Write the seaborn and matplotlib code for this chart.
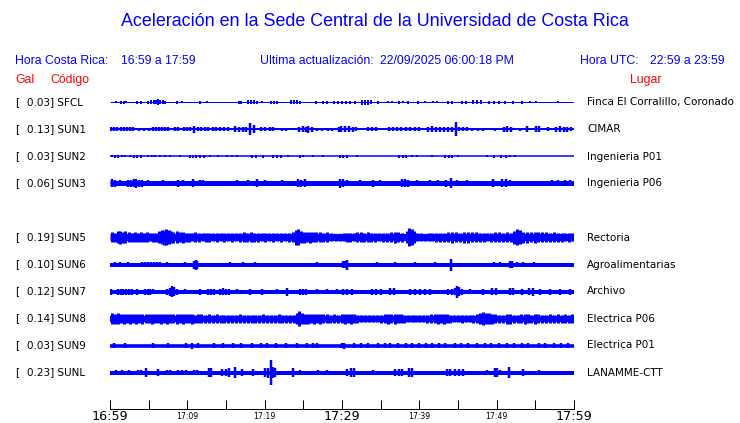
import matplotlib
matplotlib.use("Agg")
import matplotlib.pyplot as plt
import matplotlib.transforms as mtransforms
import pandas as pd
import seaborn as sns

# ---------------- data ----------------
codes = ["SFCL", "SUN1", "SUN2", "SUN3", "SUN5", "SUN6", "SUN7", "SUN8", "SUN9", "SUNL"]
gal = [0.03, 0.13, 0.03, 0.06, 0.19, 0.10, 0.12, 0.14, 0.03, 0.23]
places = ["Finca El Corralillo, Coronado", "CIMAR", "Ingenieria P01", "Ingenieria P06",
          "Rectoria", "Agroalimentarias", "Archivo", "Electrica P06", "Electrica P01",
          "LANAMME-CTT"]
# half-width (pixels) of the continuous background noise band of each trace
base_px = [0.5, 1.0, 0.75, 2.5, 3.6, 2.0, 2.0, 3.2, 1.8, 2.0]

tick_minutes = [0, 5, 10, 15, 20, 25, 30, 35, 40, 45, 50, 55, 60]
tick_labels = ["16:59", "", "17:09", "", "17:19", "", "17:29", "", "17:39", "", "17:49", "", "17:59"]

# events: (minute after 16:59, half amplitude in pixels)
sfcl_events = [(0.8, 1), (1.4, 1.5), (1.8, 1.5), (2.1, 1), (3.5, 1.5), (4.0, 1.5), (4.9, 1.5),
               (5.3, 2), (5.7, 2), (5.9, 2), (6.2, 3), (6.5, 2), (6.9, 2), (7.1, 1.5), (8.7, 1.5),
               (9.3, 1), (11.6, 1.5), (12.5, 1), (16.7, 1.5), (16.9, 1.5), (17.8, 2), (18.2, 2),
               (18.6, 2), (19.0, 1.5), (19.7, 1), (20.8, 1.5), (21.2, 1.5), (21.6, 1.5), (23.4, 2),
               (23.8, 2), (24.2, 2), (24.6, 1.5), (26.6, 1.5), (27.5, 1.5), (28.0, 1.5), (29.0, 1.5),
               (29.5, 1.5), (30.0, 1.5), (30.5, 1.5), (31.0, 1.5), (31.7, 1.5), (32.6, 2.5),
               (33.0, 2.5), (33.4, 2.5), (33.8, 2), (34.7, 1.5), (35.9, 1), (36.5, 1), (37.4, 1.5),
               (37.9, 1), (38.5, 1.5), (39.8, 1.5), (40.7, 1), (41.8, 1), (42.3, 1), (43.7, 1.5),
               (44.2, 1.5), (45.5, 1.5), (46.0, 1.5), (46.9, 2), (47.5, 2), (48.0, 2), (49.0, 1.5),
               (49.7, 1.5), (50.3, 1.5), (51.1, 1.5), (52.1, 1.5), (53.3, 1.5), (54.3, 1), (55.1, 1),
               (57.9, 1)]
sun1_events = [(0.1, 2), (0.5, 2), (0.9, 2), (1.4, 2), (1.8, 2), (2.2, 2), (2.6, 2), (3.0, 2),
               (3.8, 1.5), (4.4, 1.5), (5.0, 1.5), (5.6, 2), (5.9, 2), (6.3, 2), (6.7, 2), (7.1, 2),
               (7.5, 2), (8.4, 2), (8.8, 2), (9.6, 2), (10.0, 2), (10.3, 2), (10.9, 3.7), (11.4, 2),
               (11.8, 2), (12.3, 2), (12.7, 2), (13.3, 2), (13.7, 2), (14.2, 2), (14.7, 2), (15.3, 2),
               (16.2, 3), (16.7, 2.5), (17.2, 2.5), (17.6, 2.5), (18.1, 6), (18.6, 4), (19.5, 2),
               (20.0, 2), (20.7, 2), (21.1, 2), (22.2, 1.5), (22.8, 1.5), (24.4, 2.5), (25.0, 3),
               (25.3, 2.5), (25.6, 3.5), (26.1, 2.5), (26.8, 1.5), (27.4, 1.5), (28.2, 1.5),
               (28.7, 1.5), (29.6, 2.5), (29.9, 3), (30.4, 3), (30.9, 3), (31.4, 2.5), (31.8, 2),
               (33.4, 2), (33.9, 2), (34.4, 2), (36.1, 2), (36.6, 2), (37.1, 2), (37.6, 2), (38.3, 2),
               (38.8, 2), (39.4, 2), (40.0, 2), (41.1, 2.5), (41.6, 3), (42.2, 2.5), (42.7, 2.5),
               (43.2, 2.5), (43.7, 2.5), (44.2, 2.5), (44.7, 7), (45.1, 2), (45.6, 2), (46.2, 2),
               (46.8, 1.5), (47.6, 1.5), (48.2, 1.5), (49.8, 1.5), (51.0, 2.5), (51.3, 3), (51.9, 2.5),
               (53.0, 1.5), (53.9, 3), (55.1, 3), (55.5, 3), (56.6, 2), (57.7, 2.5), (58.2, 3),
               (58.7, 2.5), (59.1, 2.5), (59.6, 2)]
sun2_events = [(0.2, 1), (0.6, 1.5), (1.0, 1.5), (1.6, 1), (1.9, 1), (2.6, 1), (3.1, 1.5), (3.5, 1.5),
               (4.0, 1.5), (4.9, 1), (5.4, 1), (5.8, 1), (6.5, 1), (7.1, 1), (7.8, 1), (9.1, 1),
               (10.3, 1.5), (10.7, 1.5), (11.1, 1.5), (11.6, 1.5), (12.2, 1.5), (12.9, 1), (14.0, 1),
               (15.1, 1), (15.8, 1), (16.4, 1), (18.4, 1.5), (18.9, 1.5), (19.8, 1.5), (21.1, 1.5),
               (21.6, 1.5), (22.1, 1.5), (23.0, 1), (24.6, 1.5), (25.0, 1), (26.3, 1), (27.5, 1),
               (29.7, 1.5), (30.1, 1.5), (30.6, 1.5), (31.9, 1), (37.4, 1.5), (37.9, 1.5), (38.3, 1.5),
               (39.1, 1), (39.7, 1), (41.6, 1), (43.3, 1.5), (43.8, 1.5), (44.2, 1.5), (45.0, 1),
               (48.8, 1), (49.7, 1.5), (50.6, 1.5), (51.2, 1.5), (51.7, 1), (52.4, 1)]
sun3_events = [(0.3, 4), (0.6, 3.5), (1.3, 3), (2.3, 3.5), (2.7, 3.5), (3.1, 4), (3.4, 4.5), (3.8, 3.5),
               (4.1, 3.5), (4.9, 3), (6.9, 3), (8.8, 3.5), (9.4, 3), (10.7, 4), (11.6, 3), (12.0, 3),
               (16.4, 3), (17.8, 3), (19.0, 4), (20.0, 3), (22.2, 3), (24.3, 4), (24.7, 3.5), (25.2, 4),
               (29.7, 4.5), (30.1, 4), (30.6, 3), (32.3, 3), (34.0, 3.5), (34.9, 3), (37.8, 4),
               (38.1, 4), (38.5, 3.5), (39.7, 3), (41.4, 3), (42.4, 3), (43.4, 3.5), (44.1, 5),
               (44.9, 3), (46.2, 3), (49.5, 4), (50.7, 4), (51.2, 4), (51.7, 3), (57.2, 3), (57.9, 3),
               (58.8, 3), (59.5, 3)]
sun5_events = [(0.2, 5), (0.6, 4.5), (1.0, 6), (1.3, 6.5), (1.7, 5.5), (2.0, 6), (2.4, 5), (2.8, 4.5),
               (3.2, 5), (3.6, 4.5), (4.0, 5), (4.4, 4.5), (4.8, 5), (5.2, 4), (5.6, 4.5), (6.0, 4.5),
               (6.4, 6), (6.7, 7), (7.0, 7.5), (7.3, 8), (7.6, 7), (7.9, 6), (8.2, 5.5), (8.6, 6),
               (9.0, 5), (9.4, 5.5), (9.8, 4.5), (10.2, 4.5), (10.6, 4), (11.0, 5), (11.5, 4.5),
               (12.0, 4), (12.4, 4.5), (12.8, 4.5), (13.3, 4), (13.8, 4.5), (14.3, 4), (14.8, 4.5),
               (15.3, 4), (15.8, 4.5), (16.3, 4), (16.8, 4.5), (17.3, 5), (17.7, 4.5), (18.2, 5),
               (18.6, 4.5), (19.1, 4.5), (19.6, 4), (20.1, 4.5), (20.6, 4), (21.1, 4.5), (21.6, 4),
               (22.1, 4.5), (22.6, 4), (23.1, 4.5), (23.6, 5), (24.0, 7.5), (24.3, 8), (24.7, 6),
               (25.1, 5.5), (25.5, 5), (25.9, 5.5), (26.3, 5), (26.7, 5), (27.2, 5), (27.6, 4.5),
               (28.1, 5), (28.6, 4), (29.2, 3.5), (29.7, 3.5), (30.2, 4), (30.6, 4.5), (31.0, 4.5),
               (31.5, 4), (32.0, 5), (32.4, 5), (32.8, 4.5), (33.3, 5), (33.8, 4.5), (34.3, 4.5),
               (34.8, 4), (35.3, 4.5), (35.8, 4.5), (36.3, 5), (36.8, 5.5), (37.3, 5), (37.8, 4.5),
               (38.4, 6), (38.7, 9), (39.0, 8), (39.3, 6), (39.7, 4), (40.2, 4), (40.7, 3.5), (41.2, 4),
               (41.7, 4), (42.2, 4.5), (42.7, 4.5), (43.2, 4.5), (43.7, 5), (44.2, 5.5), (44.7, 5),
               (45.3, 4.5), (45.8, 5.5), (46.3, 5.5), (46.8, 5), (47.3, 5), (47.8, 4.5), (48.3, 4.5),
               (48.8, 4), (49.3, 4.5), (49.8, 5), (50.3, 5), (50.8, 4.5), (51.3, 5), (51.8, 4.5),
               (52.3, 6.5), (52.6, 8), (53.0, 7), (53.4, 5.5), (53.9, 5.5), (54.4, 5), (54.9, 5.5),
               (55.4, 5), (55.9, 5), (56.4, 5), (56.9, 4.5), (57.4, 5), (57.9, 4.5), (58.4, 4.5),
               (58.9, 4), (59.4, 4.5), (59.8, 4)]
sun6_events = [(0.6, 3), (1.3, 3), (2.3, 2.5), (4.1, 3), (4.5, 3), (4.9, 3), (5.3, 3), (5.7, 3),
               (6.1, 3), (6.5, 3), (7.4, 3), (9.7, 2.5), (10.9, 4), (11.1, 5), (11.3, 4), (15.5, 3),
               (17.2, 3), (18.8, 2.5), (26.8, 3), (30.1, 3.5), (30.4, 3.5), (30.6, 5), (34.5, 2.5),
               (36.9, 2.5), (39.4, 3), (42.0, 2.5), (44.1, 6), (49.7, 3), (50.4, 2.5), (51.7, 3.5),
               (52.0, 3.5), (52.6, 2.5), (53.4, 2.5), (54.8, 3)]
sun7_events = [(0.1, 3), (1.0, 3), (1.4, 3), (1.7, 3), (2.1, 3), (2.5, 3), (2.8, 3), (3.5, 3), (4.5, 3),
               (4.9, 3), (5.2, 3), (5.6, 2.5), (7.4, 3), (7.8, 4), (8.0, 5.5), (8.3, 4.5), (8.7, 3),
               (9.7, 2.5), (11.6, 3), (12.7, 3), (13.1, 3), (13.4, 3), (14.2, 3), (14.6, 3.5), (15.0, 3),
               (15.4, 3), (16.4, 2.5), (18.1, 3), (19.7, 3), (21.6, 2.5), (22.9, 4), (24.6, 3), (25.0, 3),
               (25.3, 3), (26.8, 2.5), (28.1, 2.5), (29.4, 2.5), (30.1, 3), (30.6, 3), (31.3, 3),
               (33.9, 3), (34.4, 3), (35.0, 3), (36.2, 3.5), (36.7, 3.5), (38.8, 3), (39.4, 3),
               (40.1, 3), (40.7, 3), (41.4, 3), (43.7, 3), (44.2, 3), (44.6, 3.5), (44.9, 6), (45.1, 4.5),
               (45.5, 3), (46.6, 2.5), (48.2, 3), (49.4, 3.5), (49.9, 3.5), (51.7, 3.5), (52.1, 3.5),
               (53.3, 3), (54.2, 3.5), (54.7, 4), (55.6, 3), (56.9, 3), (58.2, 3), (59.5, 3)]
sun8_events = [(0.2, 5.5), (0.6, 5), (1.0, 5.5), (1.4, 4.5), (1.8, 5), (2.2, 4.5), (2.6, 5), (3.0, 4.5),
               (3.4, 5), (3.8, 4.5), (4.2, 5), (4.6, 4.5), (5.0, 4.5), (5.4, 5), (5.8, 4.5), (6.2, 4.5),
               (6.6, 5), (7.0, 4.5), (7.4, 5), (7.8, 4.5), (8.2, 4.5), (8.6, 5), (9.0, 4.5), (9.4, 5),
               (9.8, 4.5), (10.2, 4.5), (10.6, 5), (11.0, 4), (11.4, 4.5), (11.8, 4.5), (12.3, 4),
               (12.8, 4.5), (13.3, 4), (13.8, 4.5), (14.3, 4), (14.8, 4), (15.3, 4), (15.8, 4), (16.3, 4),
               (16.8, 4.5), (17.3, 4), (17.8, 4), (18.3, 4), (18.8, 4), (19.3, 4), (19.8, 4.5), (20.3, 4),
               (20.8, 4), (21.3, 4), (21.8, 4.5), (22.3, 4), (22.8, 4), (23.3, 4), (23.8, 4), (24.2, 6),
               (24.5, 7.5), (24.8, 5.5), (25.2, 5), (25.6, 5), (26.0, 4.5), (26.4, 5), (26.8, 4.5),
               (27.2, 5), (27.6, 4.5), (28.0, 4.5), (28.5, 4), (29.0, 4.5), (29.5, 4), (30.0, 4.5),
               (30.4, 5), (30.8, 4.5), (31.2, 5), (31.6, 4.5), (32.0, 4), (32.5, 3.5), (33.0, 3.5),
               (33.5, 3.5), (34.0, 3.5), (34.5, 3.5), (35.0, 4), (35.5, 4.5), (36.0, 5), (36.4, 4.5),
               (36.8, 5), (37.2, 4.5), (37.6, 4.5), (38.0, 4), (38.5, 3.5), (39.0, 3.5), (39.5, 3.5),
               (40.0, 3.5), (40.5, 3.5), (41.0, 4), (41.5, 4.5), (42.0, 4.5), (42.4, 5), (42.8, 4.5),
               (43.2, 5), (43.6, 4.5), (44.0, 4), (44.5, 3.5), (45.0, 3.5), (45.5, 4), (46.0, 3.5),
               (46.5, 3.5), (47.0, 4), (47.4, 4.5), (47.8, 5.5), (48.2, 6.5), (48.6, 6), (49.0, 5.5),
               (49.4, 5), (49.8, 4.5), (50.3, 4), (50.8, 4), (51.3, 5), (51.7, 5), (52.2, 4), (52.7, 4),
               (53.2, 4.5), (53.6, 5), (54.0, 4.5), (54.5, 4), (55.0, 5), (55.4, 4.5), (55.9, 4),
               (56.4, 4), (56.9, 4.5), (57.4, 4), (57.9, 4.5), (58.4, 4), (58.9, 4.5), (59.4, 4),
               (59.8, 4.5)]
sun9_events = [(0.5, 2.5), (2.0, 2.5), (5.5, 2.5), (7.5, 2.5), (9.8, 2.5), (10.6, 3), (11.4, 2.5),
               (13.4, 2.5), (14.6, 2.5), (15.9, 2.5), (17.0, 2.5), (18.4, 2.5), (19.5, 2.5), (20.3, 2.5),
               (21.5, 2.5), (22.8, 2.5), (24.2, 2.5), (25.5, 2.5), (26.2, 2.5), (26.8, 2.5), (30.0, 2.5),
               (30.3, 3), (31.5, 2.5), (32.4, 2.5), (33.3, 2.5), (34.7, 2.5), (35.6, 2.5), (36.2, 2.5),
               (37.3, 2.5), (38.3, 2.5), (39.0, 2.5), (40.0, 2.5), (40.8, 2.5), (41.7, 2.5), (42.6, 2.5),
               (43.3, 2.5), (44.6, 2.5), (45.4, 2.5), (46.3, 2.5), (47.5, 2.5), (48.5, 2.5), (49.3, 2.5),
               (50.3, 2.5), (51.3, 2.5), (52.2, 2.5), (53.3, 2.5), (54.0, 2.5), (55.5, 2.5), (56.2, 2.5),
               (57.4, 2.5), (58.3, 2.5), (59.2, 2.5)]
sunl_events = [(0.8, 2.5), (1.5, 2.5), (2.4, 2.5), (3.6, 3), (4.0, 3), (4.7, 4), (6.2, 3.5), (7.4, 3),
               (7.8, 3), (8.8, 3), (9.3, 3), (9.8, 3), (10.8, 3), (11.3, 3), (12.8, 4), (13.1, 4),
               (14.5, 3.5), (15.0, 3.5), (15.4, 4.5), (16.2, 6), (17.1, 3.5), (18.5, 3.5), (20.0, 4.5),
               (20.4, 5), (20.8, 12.5), (21.1, 6), (21.4, 4), (23.7, 4.5), (24.6, 3), (26.9, 3), (28.0, 3),
               (30.6, 3.5), (31.1, 4.5), (31.5, 4.5), (34.0, 3), (36.9, 3.5), (37.4, 3.5), (37.8, 3.5),
               (38.7, 4.5), (39.1, 4.5), (43.6, 3.5), (44.0, 3.5), (44.6, 3.5), (45.1, 3.5), (45.6, 3.5),
               (48.8, 3), (49.8, 4.5), (50.0, 4.5), (50.4, 3), (51.6, 5.5), (53.4, 3.5), (55.5, 3)]

station_events = [sfcl_events, sun1_events, sun2_events, sun3_events, sun5_events,
                  sun6_events, sun7_events, sun8_events, sun9_events, sunl_events]

# ---------------- layout / style ----------------
W, H, DPI = 740, 423, 100
ROW_PX = 27.0
rows = [0, 1, 2, 3, 5, 6, 7, 8, 9, 10]     # empty slot between SUN3 and SUN5
event_lw_px = [2, 2.5, 2, 2.5, 3, 2.5, 2.5, 3, 2.5, 2.5]
BLUE = "#0000FF"
RED = "#FF0000"

sns.set_theme(style="white")
plt.rcParams["font.family"] = ["DejaVu Sans"]

fig = plt.figure(figsize=(W / DPI, H / DPI), dpi=DPI)
fig.patch.set_facecolor("white")
ax_left, ax_right, ax_top, ax_bottom = 110, 574, 90.5, 409
ax = fig.add_axes([ax_left / W, (H - ax_bottom) / H, (ax_right - ax_left) / W, (ax_bottom - ax_top) / H])
ax.set_facecolor("white")
first_row_px = 102.5
y_bottom = (ax_bottom - first_row_px) / ROW_PX
y_top = (ax_top - first_row_px) / ROW_PX
ax.set_xlim(0, 60)
ax.set_ylim(y_bottom, y_top)

px2pt = 72.0 / DPI
for i, code in enumerate(codes):
    r = rows[i]
    base = pd.DataFrame({"minuto": [0, 60], "y": [r, r]})
    sns.lineplot(data=base, x="minuto", y="y", ax=ax, color=BLUE,
                 linewidth=max(1.0, 2 * base_px[i]) * px2pt, solid_capstyle="butt",
                 estimator=None)
    ev = pd.DataFrame(station_events[i], columns=["t", "a"])
    ax.vlines(ev["t"], r - ev["a"] / ROW_PX, r + ev["a"] / ROW_PX,
              colors=BLUE, linewidth=event_lw_px[i] * px2pt)

ax.set_xlabel("")
ax.set_ylabel("")
ax.set_yticks([])
sns.despine(ax=ax, left=True, top=True, right=True, bottom=False)
ax.spines["bottom"].set_color("black")
ax.spines["bottom"].set_linewidth(1.0 * px2pt)

major = [m for m, l in zip(tick_minutes, tick_labels) if m % 30 == 0]
major_lab = [l for m, l in zip(tick_minutes, tick_labels) if m % 30 == 0]
minor = [m for m in tick_minutes if m % 30 != 0]
minor_lab = [l for m, l in zip(tick_minutes, tick_labels) if m % 30 != 0]
ax.set_xticks(major, major_lab)
ax.set_xticks(minor, minor_lab, minor=True)
ax.tick_params(axis="x", which="both", direction="in", length=9 * px2pt, width=1.0 * px2pt,
               color="black", bottom=True, top=False)
ax.tick_params(axis="x", which="major", labelsize=9.2, pad=1.0, labelcolor="black")
ax.tick_params(axis="x", which="minor", labelsize=5.6, pad=2.0, labelcolor="black")
for lab in ax.get_xticklabels():
    lab.set_x(lab.get_position()[0])
ax.grid(False)

# ---------------- texts ----------------
def fx(px):
    return px / W

def fy(py):
    return 1 - py / H

hdr = dict(family=["Liberation Sans", "DejaVu Sans"], va="center")
fig.text(fx(375), fy(22), "Aceleración en la Sede Central de la Universidad de Costa Rica",
         ha="center", fontsize=12.9, color=BLUE, **hdr)
fig.text(fx(15), fy(61), "Hora Costa Rica:", fontsize=8.8, color=BLUE, ha="left", **hdr)
fig.text(fx(121), fy(61), "16:59 a 17:59", fontsize=8.8, color=BLUE, ha="left", **hdr)
fig.text(fx(260.5), fy(61), "Ultima actualización:", fontsize=8.8, color=BLUE, ha="left", **hdr)
fig.text(fx(380), fy(61), "22/09/2025 06:00:18 PM", fontsize=8.8, color=BLUE, ha="left", **hdr)
fig.text(fx(580), fy(61), "Hora UTC:", fontsize=8.8, color=BLUE, ha="left", **hdr)
fig.text(fx(650), fy(61), "22:59 a 23:59", fontsize=8.8, color=BLUE, ha="left", **hdr)
fig.text(fx(15), fy(80), "Gal", fontsize=8.8, color=RED, ha="left", **hdr)
fig.text(fx(50), fy(80), "Código", fontsize=8.8, color=RED, ha="left", **hdr)
fig.text(fx(630), fy(80), "Lugar", fontsize=8.8, color=RED, ha="left", **hdr)

trans = mtransforms.blended_transform_factory(fig.transFigure, ax.transData)
for i, code in enumerate(codes):
    r = rows[i]
    ax.text(fx(15), r, "[", transform=trans, fontsize=7.5, va="center", ha="left",
            color="black", clip_on=False)
    ax.text(fx(27), r, f"{gal[i]:.2f}] {code}", transform=trans, fontsize=7.5, va="center",
            ha="left", color="black", clip_on=False)
    ax.text(fx(587), r, places[i], transform=trans, fontsize=7.5, va="center", ha="left",
            color="black", clip_on=False)

fig.savefig("out.png", dpi=DPI, facecolor="white")
